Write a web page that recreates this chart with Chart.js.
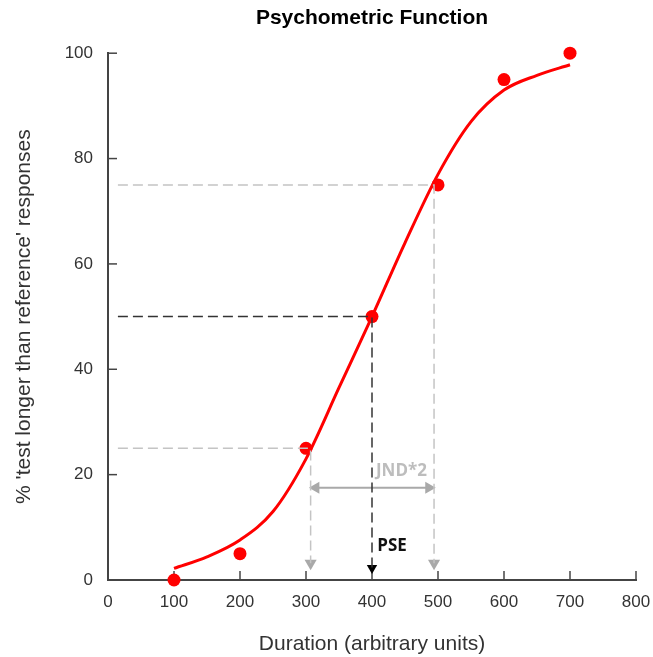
<!DOCTYPE html>
<html>
<head>
<meta charset="utf-8">
<title>Psychometric Function</title>
<script src="https://cdn.jsdelivr.net/npm/chart.js@4.4.1/dist/chart.umd.min.js"></script>
<style>
  html, body { margin: 0; padding: 0; background: #fff; }
  #wrap { width: 653px; height: 657px; }
</style>
</head>
<body>
<div id="wrap"><canvas id="chart" width="653" height="657"></canvas></div>
<script>
// Observed data
const durations = [100, 200, 300, 400, 500, 600, 700];
const responses = [0, 5, 25, 50, 75, 95, 100];

// Fitted curve
const fitX = [100, 150, 200, 250, 300, 350, 400, 450, 500, 550, 600, 650, 700];
const fitY = [2.2, 4.4, 7.6, 13, 23, 36.5, 50, 64, 77, 87, 93, 95.8, 97.8];

// Axis ticks
const xTicks = [0, 100, 200, 300, 400, 500, 600, 700, 800];
const yTicks = [0, 20, 40, 60, 80, 100];

// Reference markers
const levels = [25, 50, 75];
const pse = 400;
const jndLow = 307;
const jndHigh = 494;
const jndY = 17.5;
const lineStart = 15;
const arrowY = 3.2;

const lightGray = "#c4c4c4";
const arrowGray = "#a9a9a9";
const dark = "#333333";

Chart.defaults.font.family = "'Liberation Sans', Arial, sans-serif";
Chart.defaults.color = "#333";

function dashed(points, color) {
  return {
    data: points,
    borderColor: color,
    borderWidth: 1.5,
    borderDash: [10, 5],
    pointRadius: 0,
    fill: false,
    tension: 0,
  };
}

// Inward tick marks
const insideTicks = {
  id: "insideTicks",
  beforeDatasetsDraw(chart) {
    const { ctx, chartArea, scales } = chart;
    ctx.save();
    ctx.strokeStyle = "#444";
    ctx.lineWidth = 1.5;
    scales.x.ticks.forEach((t) => {
      const px = scales.x.getPixelForValue(t.value);
      ctx.beginPath();
      ctx.moveTo(px, chartArea.bottom);
      ctx.lineTo(px, chartArea.bottom - 9);
      ctx.stroke();
    });
    scales.y.ticks.forEach((t) => {
      const py = scales.y.getPixelForValue(t.value);
      ctx.beginPath();
      ctx.moveTo(chartArea.left, py);
      ctx.lineTo(chartArea.left + 9, py);
      ctx.stroke();
    });
    ctx.restore();
  },
};

// Annotations text
const labels = {
  id: "labels",
  afterDatasetsDraw(chart) {
    const { ctx, scales } = chart;
    ctx.save();
    ctx.font = "bold 17px 'Open Sans', sans-serif";
    ctx.textBaseline = "middle";
    ctx.textAlign = "left";
    ctx.fillStyle = "#bdbdbd";
    ctx.fillText("JND*2", scales.x.getPixelForValue(406), scales.y.getPixelForValue(20.7));
    ctx.fillStyle = "#111";
    ctx.fillText("PSE", scales.x.getPixelForValue(408), scales.y.getPixelForValue(6.5));
    ctx.restore();
  },
};

const ctx = document.getElementById("chart").getContext("2d");
new Chart(ctx, {
  type: "line",
  data: {
    datasets: [
      dashed([{ x: lineStart, y: levels[2] }, { x: jndHigh, y: levels[2] }, { x: jndHigh, y: arrowY }], lightGray),
      dashed([{ x: lineStart, y: levels[0] }, { x: jndLow, y: levels[0] }, { x: jndLow, y: arrowY }], lightGray),
      dashed([{ x: lineStart, y: levels[1] }, { x: pse, y: levels[1] }, { x: pse, y: 2 }], dark),
      {
        // JND double arrow
        data: [{ x: jndLow + 10, y: jndY }, { x: jndHigh - 10, y: jndY }],
        borderColor: arrowGray,
        borderWidth: 2,
        pointRadius: 0,
      },
      {
        // arrow heads
        data: [
          { x: jndLow + 8, y: jndY },
          { x: jndHigh - 8, y: jndY },
          { x: jndLow, y: arrowY },
          { x: jndHigh, y: arrowY },
        ],
        showLine: false,
        pointStyle: "triangle",
        pointRadius: 7,
        pointRotation: [270, 90, 180, 180],
        backgroundColor: arrowGray,
        borderColor: arrowGray,
        borderWidth: 0,
      },
      {
        data: [{ x: pse, y: 2.3 }],
        showLine: false,
        pointStyle: "triangle",
        pointRadius: 6,
        pointRotation: 180,
        backgroundColor: "#000",
        borderColor: "#000",
        borderWidth: 0,
      },
      {
        // fitted curve
        data: fitX.map((x, i) => ({ x: x, y: fitY[i] })),
        borderColor: "#ff0000",
        borderWidth: 3,
        pointRadius: 0,
        cubicInterpolationMode: "monotone",
      },
      {
        // observed points
        data: durations.map((x, i) => ({ x: x, y: responses[i] })),
        showLine: false,
        pointRadius: 6.5,
        backgroundColor: "#ff0000",
        borderColor: "#ff0000",
        borderWidth: 0,
        clip: false,
      },
    ],
  },
  options: {
    responsive: false,
    animation: false,
    layout: { padding: { left: 0, right: 0, top: 0, bottom: 0 } },
    plugins: {
      legend: { display: false },
      tooltip: { enabled: false },
      title: {
        display: true,
        text: "Psychometric Function",
        fullSize: false,
        color: "#000",
        font: { size: 21, weight: "bold" },
        padding: { top: 6, bottom: 22 },
      },
    },
    scales: {
      x: {
        type: "linear",
        min: 0,
        max: 800,
        afterBuildTicks: (scale) => {
          scale.ticks = xTicks.map((v) => ({ value: v }));
        },
        afterFit: (scale) => {
          scale.height = 77;
          scale.paddingLeft = 0;
          scale.paddingRight = 17;
        },
        grid: { display: false, drawTicks: false },
        border: { display: true, color: "#444", width: 2 },
        ticks: { padding: 12, font: { size: 17 }, color: "#333" },
        title: {
          display: true,
          text: "Duration (arbitrary units)",
          font: { size: 21 },
          color: "#333",
          padding: { top: 0, bottom: 0 },
        },
      },
      y: {
        min: 0,
        max: 100,
        afterBuildTicks: (scale) => {
          scale.ticks = yTicks.map((v) => ({ value: v }));
        },
        afterFit: (scale) => {
          scale.width = 108;
        },
        grid: { display: false, drawTicks: false },
        border: { display: true, color: "#444", width: 2 },
        ticks: { padding: 15, font: { size: 17 }, color: "#333" },
        title: {
          display: true,
          text: "% 'test longer than reference' responses",
          font: { size: 21 },
          color: "#333",
          padding: { top: 12, bottom: 0 },
        },
      },
    },
  },
  plugins: [insideTicks, labels],
});
</script>
</body>
</html>
